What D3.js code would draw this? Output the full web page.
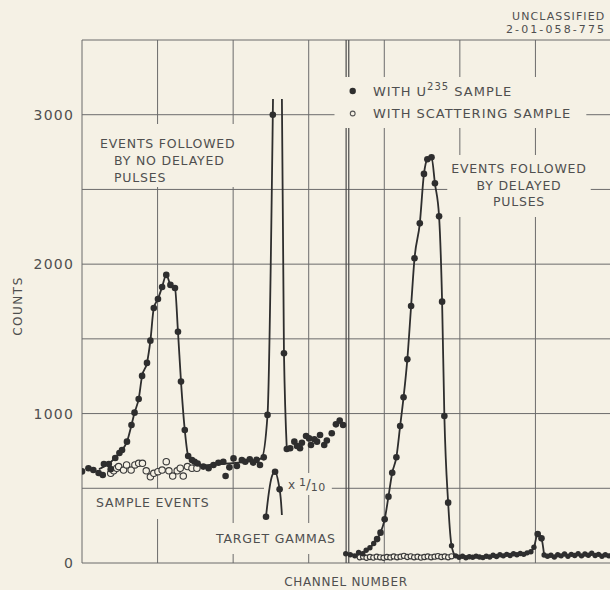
<!DOCTYPE html>
<html>
<head>
<meta charset="utf-8">
<script src="https://cdn.jsdelivr.net/npm/d3@7"></script>
<style>
  body { margin: 0; background: #f5f1e5; }
  text { font-family: "DejaVu Sans", sans-serif; fill: #4f4f4f; }
</style>
</head>
<body>
<script>
// ---- data (channel, counts) ----
const yTicks = [0, 1000, 2000, 3000];
const gridCounts = [0, 500, 1000, 1500, 2000, 2500, 3000, 3500];
const gridChannels = [0, 20, 40, 60, 80, 100, 120, 140];
const dividerChannels = [69.9, 70.6];

// filled dots, events followed by no delayed pulses (incl. target gamma spike)
const u235DotsLeft = [
  [0, 613], [1.7, 634], [3.0, 622], [4.4, 602], [5.5, 589], [5.8, 663], [7.1, 663], [7.6, 628],
  [8.8, 703], [9.9, 736], [10.6, 756], [11.9, 812], [13.1, 924], [13.9, 1006], [15.0, 1098],
  [15.9, 1252], [17.2, 1339], [18.1, 1488], [19.0, 1706], [20.1, 1767], [21.2, 1847], [22.3, 1928],
  [23.4, 1861], [24.6, 1840], [25.4, 1548], [26.2, 1214], [27.2, 890], [28.1, 716], [29.1, 689],
  [29.8, 678], [30.6, 666], [32.1, 645], [33.5, 634], [34.8, 656], [36.1, 671], [37.4, 678],
  [38.0, 582], [39.0, 640], [40.1, 700], [41.0, 649], [42.3, 689], [43.2, 678], [44.4, 694],
  [45.3, 672], [46.2, 690], [47.1, 656], [48.1, 707], [49.1, 991], [50.5, 3000], [51.8, 6100],
  [53.45, 1404], [54.2, 763], [55.1, 768], [56.2, 812], [56.9, 783], [57.7, 768], [58.2, 805],
  [59.3, 850], [60.1, 834], [60.6, 790], [61.5, 828], [62.2, 812], [63.0, 857], [64.1, 790],
  [64.8, 820], [66.1, 868], [67.2, 928], [68.2, 953], [69.1, 924]
];
const peakLineLeft = [
  [4.5, 628], [6.5, 655], [8.8, 703], [9.9, 736], [10.6, 756], [11.9, 812], [13.1, 924], [13.9, 1006],
  [15.0, 1098], [15.9, 1252], [17.2, 1339], [18.1, 1488], [19.0, 1706], [20.1, 1767], [21.2, 1847],
  [22.3, 1928], [23.4, 1861], [24.6, 1840], [25.4, 1548], [26.2, 1214], [27.2, 890], [28.1, 716],
  [29.5, 672], [32, 655], [36, 662], [40, 668], [44, 680], [47.5, 700], [49.1, 991], [50.5, 3000],
  [51.8, 6100], [53.45, 1404], [54.2, 763]
];

// filled dots, events followed by delayed pulses
const u235DotsRight = [
  [69.8, 62], [71.0, 55], [72.2, 48], [73.2, 70], [74.3, 62], [75.2, 85], [76.2, 102], [77.2, 130],
  [78.1, 160], [79.0, 203], [80.1, 292], [81.1, 444], [82.1, 604], [83.2, 708], [84.2, 917],
  [85.1, 1109], [86.1, 1363], [87.1, 1720], [88.0, 2039], [89.4, 2273], [90.5, 2604], [91.4, 2702],
  [92.5, 2715], [93.4, 2541], [94.5, 2320], [95.3, 1749], [95.9, 984], [96.9, 404], [97.8, 116],
  [98.9, 48], [99.8, 38], [100.7, 45], [101.6, 35], [102.5, 42], [103.4, 38], [104.3, 46],
  [105.2, 40], [106.1, 36], [107.0, 45], [107.9, 40], [108.8, 52], [109.7, 44], [110.6, 55],
  [111.5, 48], [112.4, 58], [113.3, 50], [114.2, 62], [115.1, 55], [116.0, 64], [116.9, 58],
  [117.8, 68], [118.8, 75], [119.6, 105], [120.6, 194], [121.6, 165], [122.3, 54], [123.2, 45],
  [124.1, 52], [125.0, 40], [125.9, 55], [126.8, 48], [127.7, 60], [128.6, 45], [129.5, 58],
  [130.4, 50], [131.3, 62], [132.2, 48], [133.1, 60], [134.0, 52], [134.9, 65], [135.8, 50],
  [136.7, 58], [137.6, 45], [138.5, 55], [139.4, 48]
];
const peakLineRight = [
  [69.8, 62], [72.2, 55], [74.3, 68], [76.2, 102], [77.2, 130], [78.1, 160], [79.0, 203], [80.1, 292],
  [81.1, 444], [82.1, 604], [83.2, 708], [84.2, 917], [85.1, 1109], [86.1, 1363], [87.1, 1720],
  [88.0, 2039], [89.4, 2273], [90.5, 2604], [91.4, 2702], [92.5, 2715], [93.4, 2541], [94.5, 2320],
  [95.3, 1749], [95.9, 984], [96.9, 404], [97.8, 116], [98.9, 40]
];
const bumpLine = [[118.8, 75], [119.6, 105], [120.6, 194], [121.6, 165], [122.3, 54]];

// target gamma peak, plotted x 1/10
const gammaInsetDots = [[48.7, 310], [51.1, 611], [52.3, 493]];
const gammaInsetLine = [[48.7, 310], [50.4, 590], [51.1, 611], [52.3, 493], [52.9, 321]];

// open circles, scattering sample
const scatterDotsLeft = [
  [7.6, 600], [8.4, 617], [9.2, 634], [9.7, 645], [11.0, 622], [11.8, 656], [13.0, 622], [14.0, 656],
  [15.0, 667], [16.0, 667], [17.0, 617], [18.1, 577], [19.0, 600], [20.1, 611], [21.2, 622],
  [22.3, 678], [23.0, 617], [24.0, 582], [25.2, 617], [26.0, 634], [26.8, 582], [27.9, 645],
  [29.1, 634], [30.4, 634]
];
const scatterDotsRight = [
  [73.5, 38], [74.4, 42], [75.3, 35], [76.2, 40], [77.1, 36], [78.0, 42], [78.9, 38], [79.8, 35],
  [80.7, 40], [81.6, 37], [82.5, 44], [83.4, 38], [84.3, 42], [85.2, 48], [86.1, 40], [87.0, 45],
  [87.9, 38], [88.8, 42], [89.7, 36], [90.6, 40], [91.5, 44], [92.4, 38], [93.3, 42], [94.2, 46],
  [95.1, 40], [96.0, 44], [96.9, 38], [97.8, 45]
];

// ---- layout ----
const W = 610, H = 590;
const paper = "#f5f1e5", ink = "#2e2e2e", gridInk = "#6b6b6b";

const x = d3.scaleLinear().domain([0, 140]).range([82, 611]);
const y = d3.scaleLinear().domain([0, 3500]).range([563, 40]);

const svg = d3.select("body").append("svg")
  .attr("width", W)
  .attr("height", H);

svg.append("rect").attr("width", W).attr("height", H).attr("fill", paper);

const gridG = svg.append("g").attr("stroke", gridInk).attr("stroke-width", 1);
const maskG = svg.append("g");
const dataG = svg.append("g");
const textG = svg.append("g");

// grid + frame
gridG.selectAll("line.gx").data(gridChannels).join("line").attr("class", "gx")
  .attr("x1", d => x(d)).attr("x2", d => x(d))
  .attr("y1", y(3500)).attr("y2", y(0));
gridG.selectAll("line.gy").data(gridCounts).join("line").attr("class", "gy")
  .attr("x1", x(0)).attr("x2", x(140))
  .attr("y1", d => y(d)).attr("y2", d => y(d));
gridG.selectAll("line.dv").data(dividerChannels).join("line").attr("class", "dv")
  .attr("x1", d => x(d)).attr("x2", d => x(d))
  .attr("y1", y(3500)).attr("y2", y(0))
  .attr("stroke", "#4a4a4a").attr("stroke-width", 1.2);

// y tick labels
const yAxis = d3.axisLeft(y).tickValues(yTicks).tickFormat(d3.format("d")).tickSize(0).tickPadding(8);
const ya = svg.append("g").attr("transform", "translate(" + x(0) + ",0)").call(yAxis);
ya.select(".domain").remove();
ya.selectAll("text")
  .attr("font-size", 14)
  .attr("letter-spacing", 1.2)
  .attr("font-family", "DejaVu Sans")
  .attr("fill", "#4f4f4f");

// text labels with paper-coloured patches that break the grid underneath
function label(lines, pad, size, spacing) {
  const g = textG.append("g");
  lines.forEach(l => {
    g.append("text")
      .attr("x", l[0]).attr("y", l[1])
      .attr("text-anchor", l[3] || "start")
      .attr("font-size", size)
      .attr("letter-spacing", spacing)
      .text(l[2]);
  });
  const b = g.node().getBBox();
  maskG.append("rect")
    .attr("x", b.x - pad[0]).attr("y", b.y - pad[1])
    .attr("width", b.width + pad[0] + pad[2])
    .attr("height", b.height + pad[1] + pad[3])
    .attr("fill", paper);
  return g;
}

label([[100, 148, "EVENTS FOLLOWED"], [114, 165, "BY NO DELAYED"], [114, 182, "PULSES"]],
  [8, 12, 12, 2], 12.5, 0.8);
label([[519, 173, "EVENTS FOLLOWED", "middle"], [519, 190, "BY DELAYED", "middle"], [519, 206, "PULSES", "middle"]],
  [4, 6, 4, 8], 12.5, 0.8);
label([[96, 507, "SAMPLE EVENTS"]], [4, 6, 6, 9], 12.5, 0.8);
label([[216, 543, "TARGET GAMMAS"]], [4, 8, 4, 8], 12.5, 0.8);

// x 1/10 note
const note = textG.append("text").attr("x", 288).attr("y", 489).attr("font-size", 12);
note.append("tspan").text("x");
note.append("tspan").attr("dx", 4).attr("dy", -3).attr("font-size", 11).text("1");
note.append("tspan").attr("dy", 3).attr("font-size", 14).text("/");
note.append("tspan").attr("dy", 2).attr("font-size", 11).attr("letter-spacing", 0.5).text("10");
{
  const b = note.node().getBBox();
  maskG.append("rect").attr("x", b.x - 24).attr("y", b.y - 3)
    .attr("width", b.width + 30).attr("height", b.height + 4).attr("fill", paper);
}

// legend
const leg = textG.append("g");
leg.append("circle").attr("cx", 352.7).attr("cy", 91).attr("r", 3.2).attr("fill", ink);
leg.append("circle").attr("cx", 352.7).attr("cy", 113.5).attr("r", 2.4)
  .attr("fill", paper).attr("stroke", "#555").attr("stroke-width", 1.1);
const l1 = leg.append("text").attr("x", 373).attr("y", 96).attr("font-size", 13).attr("letter-spacing", 1);
l1.append("tspan").text("WITH U");
l1.append("tspan").attr("dy", -6).attr("font-size", 10).text("235");
l1.append("tspan").attr("dy", 6).text(" SAMPLE");
leg.append("text").attr("x", 373).attr("y", 118).attr("font-size", 13).attr("letter-spacing", 1)
  .text("WITH SCATTERING SAMPLE");
{
  const b = leg.node().getBBox();
  maskG.append("rect").attr("x", b.x - 15).attr("y", b.y - 4)
    .attr("width", b.width + 30).attr("height", b.height + 11).attr("fill", paper);
}

// axis titles and header
textG.append("text")
  .attr("transform", "translate(22," + 306 + ") rotate(-90)")
  .attr("text-anchor", "middle").attr("font-size", 12).attr("letter-spacing", 1.5)
  .text("COUNTS");
textG.append("text")
  .attr("x", 346).attr("y", 586).attr("text-anchor", "middle")
  .attr("font-size", 12).attr("letter-spacing", 0.7)
  .text("CHANNEL NUMBER");
textG.append("text").attr("x", 512).attr("y", 19.5)
  .attr("font-size", 11).attr("letter-spacing", 1.1).text("UNCLASSIFIED");
textG.append("text").attr("x", 506).attr("y", 32.5)
  .attr("font-size", 11).attr("letter-spacing", 2.1).text("2-01-058-775");

// ---- data marks ----
svg.append("clipPath").attr("id", "plotclip")
  .append("rect").attr("x", x(0)).attr("y", y(3105))
  .attr("width", x(140) - x(0)).attr("height", y(0) - y(3105) + 6);
dataG.attr("clip-path", "url(#plotclip)");

const line = d3.line().x(d => x(d[0])).y(d => y(d[1])).curve(d3.curveMonotoneX);
const roundLine = d3.line().x(d => x(d[0])).y(d => y(d[1])).curve(d3.curveCatmullRom.alpha(0.5));

[peakLineLeft, peakLineRight, bumpLine].forEach(pts => {
  dataG.append("path").datum(pts).attr("d", line)
    .attr("fill", "none").attr("stroke", ink).attr("stroke-width", 1.8);
});
dataG.append("path").datum(gammaInsetLine).attr("d", roundLine)
  .attr("fill", "none").attr("stroke", ink).attr("stroke-width", 1.8);

// open circles (scattering)
dataG.selectAll("circle.sl").data(scatterDotsLeft).join("circle").attr("class", "sl")
  .attr("cx", d => x(d[0])).attr("cy", d => y(d[1])).attr("r", 3.2)
  .attr("fill", paper).attr("stroke", "#3a3a3a").attr("stroke-width", 1.1);
dataG.selectAll("circle.sr").data(scatterDotsRight).join("circle").attr("class", "sr")
  .attr("cx", d => x(d[0])).attr("cy", d => y(d[1])).attr("r", 2.6)
  .attr("fill", paper).attr("stroke", "#3a3a3a").attr("stroke-width", 1.1);

// filled dots (U235)
dataG.selectAll("circle.fl").data(u235DotsLeft).join("circle").attr("class", "fl")
  .attr("cx", d => x(d[0])).attr("cy", d => y(d[1])).attr("r", 3.3).attr("fill", ink);
dataG.selectAll("circle.fr").data(u235DotsRight).join("circle").attr("class", "fr")
  .attr("cx", d => x(d[0])).attr("cy", d => y(d[1]))
  .attr("r", d => d[1] > 150 ? 3.3 : 2.7).attr("fill", ink);
dataG.selectAll("circle.gi").data(gammaInsetDots).join("circle").attr("class", "gi")
  .attr("cx", d => x(d[0])).attr("cy", d => y(d[1])).attr("r", 3.3).attr("fill", ink);
</script>
</body>
</html>
